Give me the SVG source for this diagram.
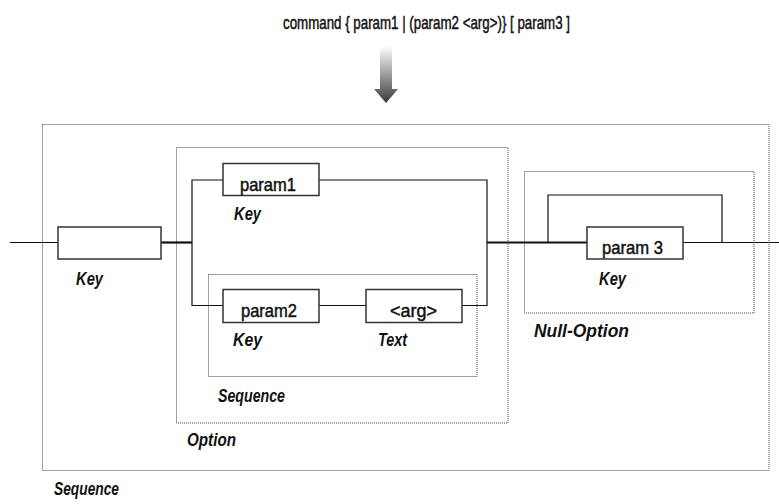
<svg xmlns="http://www.w3.org/2000/svg" width="779" height="504" viewBox="0 0 779 504">
<style>
.grp{fill:none;stroke:#444;stroke-width:1;stroke-dasharray:1,1}
.box{fill:#fff;stroke:#333;stroke-width:1.5}
.ln{fill:none;stroke:#111;stroke-width:1.2}
.thk{fill:none;stroke:#111;stroke-width:2.2}
.bt{font-family:"Liberation Sans",Arial,sans-serif;font-size:19px;fill:#111;stroke:#111;stroke-width:0.5}
.lb{font-family:"Liberation Sans",Arial,sans-serif;font-size:18px;font-weight:bold;font-style:italic;fill:#111}
</style>
<defs>
<linearGradient id="ag" x1="0" y1="0" x2="0" y2="1">
<stop offset="0" stop-color="#ffffff"/>
<stop offset="1" stop-color="#3a3a3a"/>
</linearGradient>
</defs>
<rect width="779" height="504" fill="#fff"/>
<g id="title">
<text class="bt" x="283" y="29" font-size="20" textLength="287" lengthAdjust="spacingAndGlyphs">command { param1 | (param2 &lt;arg&gt;)} [ param3 ]</text>
</g>
<g id="arrow">
<path d="M380,46 H392 V89 H398 L386,103 L374,89 H380 Z" fill="url(#ag)"/>
</g>
<g id="groups">
<rect id="seq-outer" class="grp" x="42.5" y="124.5" width="726.5" height="346"/>
<rect id="option" class="grp" x="176.5" y="147.5" width="331.5" height="275.5"/>
<rect id="seq-inner" class="grp" x="208.5" y="274.5" width="268.5" height="102"/>
<rect id="null-option" class="grp" x="524.5" y="171.5" width="229.5" height="141.5"/>
</g>
<g id="connectors">
<path class="ln" d="M10,242.5 H58"/>
<path class="thk" d="M161,242.5 H192"/>
<path class="ln" d="M223,180 H192 V305.5 H223"/>
<path class="ln" d="M319,180 H487 V305.5 H462"/>
<path class="ln" d="M319,305.5 H366"/>
<path class="thk" d="M487,242.5 H587"/>
<path class="ln" d="M548,242.5 V195 H722 V242.5"/>
<path class="ln" d="M683,242.5 H779"/>
</g>
<g id="node-key1">
<rect class="box" x="58" y="227" width="103" height="32"/>
<text class="lb" x="76" y="285" textLength="27" lengthAdjust="spacingAndGlyphs">Key</text>
</g>
<g id="node-param1">
<rect class="box" x="223" y="163.5" width="96" height="32"/>
<text class="bt" x="240" y="190.5" textLength="56" lengthAdjust="spacingAndGlyphs">param1</text>
<text class="lb" x="234" y="220" textLength="27" lengthAdjust="spacingAndGlyphs">Key</text>
</g>
<g id="node-param2">
<rect class="box" x="223" y="289.5" width="96" height="33"/>
<text class="bt" x="241" y="317" textLength="56" lengthAdjust="spacingAndGlyphs">param2</text>
<text class="lb" x="233" y="346" textLength="29" lengthAdjust="spacingAndGlyphs">Key</text>
</g>
<g id="node-arg">
<rect class="box" x="366" y="289.5" width="96" height="33"/>
<text class="bt" x="390" y="317" textLength="47" lengthAdjust="spacingAndGlyphs">&lt;arg&gt;</text>
<text class="lb" x="378" y="346" textLength="29" lengthAdjust="spacingAndGlyphs">Text</text>
</g>
<g id="node-param3">
<rect class="box" x="587" y="227" width="96" height="32"/>
<text class="bt" x="602" y="254" textLength="61" lengthAdjust="spacingAndGlyphs">param 3</text>
<text class="lb" x="599" y="285" textLength="27" lengthAdjust="spacingAndGlyphs">Key</text>
</g>
<g id="labels">
<text class="lb" x="534" y="337" textLength="95" lengthAdjust="spacingAndGlyphs">Null-Option</text>
<text class="lb" x="218" y="402" textLength="67" lengthAdjust="spacingAndGlyphs">Sequence</text>
<text class="lb" x="187" y="446" textLength="49" lengthAdjust="spacingAndGlyphs">Option</text>
<text class="lb" x="54" y="495" textLength="65" lengthAdjust="spacingAndGlyphs">Sequence</text>
</g>
</svg>
